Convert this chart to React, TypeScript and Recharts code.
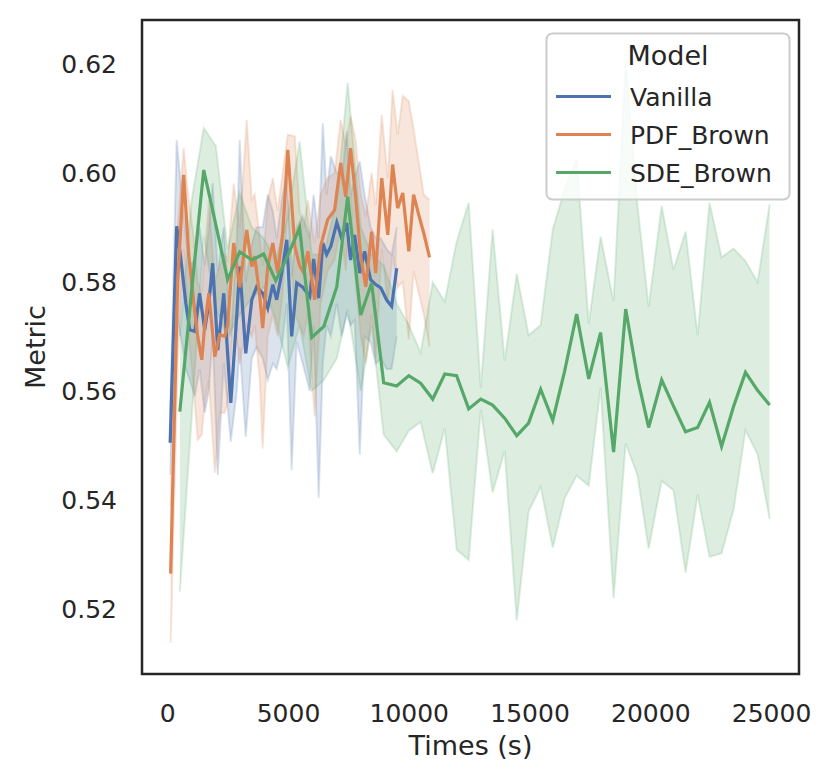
import React from 'react';
import { ComposedChart, Line, Area, XAxis, YAxis, ReferenceArea } from 'recharts';

// ---- Vanilla ----
const vanillaTimes = [100, 370, 580, 750, 910, 1120, 1320, 1530, 1700, 1860, 2070, 2320, 2610, 2860, 2980, 3230, 3480, 3680, 3930, 4140, 4350, 4510, 4720, 4930, 5130, 5340, 5590, 5880, 6040, 6250, 6420, 6580, 6750, 7000, 7200, 7410, 7570, 7740, 7950, 8150, 8400, 8610, 8820, 9060, 9270, 9480];
const vanillaMean = [0.5505, 0.5902, 0.5828, 0.576, 0.5712, 0.5709, 0.5779, 0.5712, 0.576, 0.5834, 0.5675, 0.5779, 0.5578, 0.574, 0.5828, 0.5669, 0.5767, 0.5791, 0.5779, 0.5752, 0.5795, 0.5767, 0.5816, 0.5877, 0.57, 0.5798, 0.579, 0.5773, 0.5842, 0.577, 0.5871, 0.585, 0.5865, 0.5909, 0.588, 0.5908, 0.584, 0.5886, 0.5816, 0.5856, 0.5804, 0.5795, 0.5789, 0.5767, 0.5755, 0.5825];
const vanillaHigh = [0.556, 0.606, 0.596, 0.588, 0.583, 0.584, 0.59, 0.583, 0.59, 0.5981, 0.582, 0.59, 0.57, 0.588, 0.606, 0.58, 0.587, 0.59, 0.59, 0.596, 0.593, 0.588, 0.595, 0.6, 0.581, 0.59, 0.592, 0.588, 0.596, 0.588, 0.6091, 0.596, 0.603, 0.6, 0.599, 0.6076, 0.596, 0.599, 0.6021, 0.596, 0.59, 0.588, 0.588, 0.586, 0.585, 0.59];
const vanillaLow = [0.5446, 0.574, 0.569, 0.564, 0.562, 0.559, 0.564, 0.556, 0.56, 0.57, 0.5446, 0.565, 0.5507, 0.56, 0.568, 0.5516, 0.566, 0.568, 0.566, 0.562, 0.565, 0.564, 0.568, 0.576, 0.5455, 0.569, 0.565, 0.56, 0.572, 0.5404, 0.565, 0.572, 0.57, 0.576, 0.57, 0.574, 0.572, 0.573, 0.5483, 0.57, 0.569, 0.565, 0.566, 0.564, 0.564, 0.57];

// ---- PDF_Brown ----
const pdfTimes = [120, 410, 660, 870, 1080, 1240, 1410, 1530, 1700, 1950, 2150, 2360, 2480, 2730, 2980, 3270, 3480, 3600, 3810, 3930, 4140, 4350, 4550, 4760, 4970, 5260, 5460, 5630, 5800, 6080, 6330, 6620, 6910, 7160, 7370, 7570, 7780, 7990, 8200, 8440, 8610, 8860, 9110, 9310, 9520, 9730, 9980, 10180, 10390, 10600, 10840];
const pdfMean = [0.5265, 0.58, 0.5996, 0.585, 0.5761, 0.57, 0.5657, 0.572, 0.5779, 0.5663, 0.5703, 0.57, 0.572, 0.5871, 0.579, 0.5895, 0.5828, 0.5847, 0.5773, 0.5715, 0.5828, 0.5871, 0.5816, 0.5889, 0.6042, 0.5865, 0.583, 0.5816, 0.5856, 0.5767, 0.5865, 0.5914, 0.5932, 0.6018, 0.5956, 0.6045, 0.5956, 0.5846, 0.5791, 0.5892, 0.5816, 0.599, 0.5886, 0.6015, 0.5935, 0.5963, 0.5856, 0.596, 0.5923, 0.5889, 0.5845];
const pdfHigh = [0.539, 0.59, 0.6045, 0.595, 0.588, 0.58, 0.578, 0.585, 0.595, 0.58, 0.583, 0.585, 0.584, 0.598, 0.59, 0.6097, 0.595, 0.596, 0.588, 0.583, 0.595, 0.599, 0.593, 0.6, 0.607, 0.6067, 0.593, 0.59, 0.595, 0.587, 0.596, 0.599, 0.6, 0.6097, 0.605, 0.6103, 0.606, 0.596, 0.592, 0.6, 0.594, 0.6106, 0.599, 0.6152, 0.607, 0.6141, 0.6131, 0.608, 0.602, 0.596, 0.595];
const pdfLow = [0.5138, 0.565, 0.586, 0.57, 0.56, 0.551, 0.552, 0.558, 0.562, 0.545, 0.556, 0.556, 0.558, 0.574, 0.565, 0.572, 0.57, 0.572, 0.562, 0.5494, 0.57, 0.574, 0.57, 0.578, 0.595, 0.574, 0.572, 0.57, 0.574, 0.5553, 0.576, 0.582, 0.584, 0.59, 0.582, 0.596, 0.58, 0.57, 0.565, 0.574, 0.566, 0.586, 0.576, 0.585, 0.579, 0.58, 0.5694, 0.582, 0.578, 0.574, 0.5681];

// ---- SDE_Brown ----
const sdeTimes = [500, 990, 1490, 1990, 2480, 2980, 3480, 3970, 4470, 4970, 5460, 5960, 6460, 7000, 7450, 7990, 8440, 8940, 9480, 9980, 10470, 10970, 11470, 11960, 12460, 12960, 13450, 13950, 14450, 14940, 15440, 15940, 16430, 16930, 17430, 17920, 18460, 18960, 19450, 19910, 20450, 20940, 21440, 21940, 22430, 22930, 23430, 23920, 24420, 24920];
const sdeMean = [0.5562, 0.5784, 0.6005, 0.5905, 0.5804, 0.5855, 0.584, 0.5851, 0.5802, 0.5848, 0.5899, 0.5698, 0.5718, 0.5791, 0.5956, 0.5739, 0.5798, 0.5615, 0.5609, 0.5628, 0.5614, 0.5585, 0.5631, 0.5628, 0.5567, 0.5585, 0.5574, 0.555, 0.5518, 0.5541, 0.5603, 0.5546, 0.5636, 0.5741, 0.5622, 0.5707, 0.5488, 0.575, 0.5624, 0.5533, 0.562, 0.5572, 0.5525, 0.5533, 0.5579, 0.5498, 0.5572, 0.5634, 0.5601, 0.5574];
const sdeHigh = [0.57, 0.595, 0.6082, 0.6049, 0.5859, 0.5963, 0.59, 0.588, 0.584, 0.592, 0.6057, 0.585, 0.585, 0.595, 0.6165, 0.59, 0.585, 0.583, 0.576, 0.5721, 0.567, 0.5799, 0.5764, 0.5873, 0.5945, 0.5605, 0.5896, 0.5655, 0.5815, 0.5702, 0.5721, 0.5896, 0.5969, 0.6025, 0.5723, 0.5883, 0.5764, 0.6203, 0.5939, 0.5754, 0.5939, 0.5822, 0.5892, 0.5702, 0.5945, 0.5845, 0.5861, 0.5838, 0.5799, 0.5942];
const sdeLow = [0.5232, 0.555, 0.5883, 0.575, 0.57, 0.574, 0.577, 0.579, 0.573, 0.5644, 0.572, 0.56, 0.562, 0.566, 0.575, 0.56, 0.572, 0.552, 0.5489, 0.5527, 0.5543, 0.5449, 0.5531, 0.5309, 0.529, 0.5566, 0.5414, 0.549, 0.5179, 0.5379, 0.5424, 0.5313, 0.5403, 0.5445, 0.5426, 0.5606, 0.522, 0.5504, 0.5445, 0.5311, 0.5435, 0.5418, 0.5267, 0.541, 0.5296, 0.5302, 0.5383, 0.5528, 0.5484, 0.5365];

const xTicks = [0, 5000, 10000, 15000, 20000, 25000];
const yTicks = [0.52, 0.54, 0.56, 0.58, 0.6, 0.62];
const legendNames = ['Vanilla', 'PDF_Brown', 'SDE_Brown'];
const colors = ['#4C72B0', '#DD8452', '#55A868'];

function build(times: number[], mean: number[], low: number[], high: number[]) {
  return times.map((t, i) => ({ t, mean: mean[i], band: [low[i], high[i]] }));
}

const series = [
  build(vanillaTimes, vanillaMean, vanillaLow, vanillaHigh),
  build(pdfTimes, pdfMean, pdfLow, pdfHigh),
  build(sdeTimes, sdeMean, sdeLow, sdeHigh),
];

const FONT = 'DejaVu Sans, sans-serif';
const TXT = '#262626';
const X_DOMAIN: [number, number] = [-1066, 26136];
const Y_DOMAIN: [number, number] = [0.5081, 0.628];

export default function App() {
  return (
    <div style={{ position: 'absolute', left: 0, top: 0, width: 831, height: 784, background: '#fff' }}>
      <ComposedChart width={831} height={784} margin={{ top: 20, right: 32, bottom: 0, left: 0 }}>
        <XAxis
          dataKey="t"
          type="number"
          domain={X_DOMAIN}
          ticks={xTicks}
          allowDataOverflow
          height={110}
          tickLine={false}
          axisLine={false}
          tickSize={0}
          tickMargin={30}
          tick={{ fontSize: 25, fontFamily: FONT, fill: TXT }}
          label={() => (
            <text x={470.5} y={755} textAnchor="middle" fontSize={27} fontFamily={FONT} fill={TXT}>
              Times (s)
            </text>
          )}
        />
        <YAxis
          type="number"
          domain={Y_DOMAIN}
          ticks={yTicks}
          allowDataOverflow
          width={142}
          tickLine={false}
          axisLine={false}
          tickSize={0}
          tickMargin={25}
          tickFormatter={(v: number) => v.toFixed(2)}
          tick={{ fontSize: 25, fontFamily: FONT, fill: TXT }}
          label={() => (
            <text x={45} y={347} transform="rotate(-90 45 347)" textAnchor="middle" fontSize={27} fontFamily={FONT} fill={TXT}>
              Metric
            </text>
          )}
        />
        {series.map((d, i) => (
          <Area
            key={'a' + i}
            data={d}
            dataKey="band"
            type="linear"
            fill={colors[i]}
            fillOpacity={0.2}
            stroke={colors[i]}
            strokeOpacity={0.2}
            strokeWidth={2}
            isAnimationActive={false}
            dot={false}
            activeDot={false}
          />
        ))}
        {series.map((d, i) => (
          <Line
            key={'l' + i}
            data={d}
            dataKey="mean"
            type="linear"
            stroke={colors[i]}
            strokeWidth={3.2}
            dot={false}
            activeDot={false}
            isAnimationActive={false}
          />
        ))}
        <ReferenceArea
          x1={X_DOMAIN[0]}
          x2={X_DOMAIN[1]}
          y1={Y_DOMAIN[0]}
          y2={Y_DOMAIN[1]}
          fill="none"
          stroke={TXT}
          strokeWidth={2.5}
          ifOverflow="visible"
        />
      </ComposedChart>
      <svg width={831} height={784} style={{ position: 'absolute', left: 0, top: 0, pointerEvents: 'none' }}>
        <rect x={546.5} y={33.5} width={243} height={166} rx={6} ry={6} fill="#ffffff" fillOpacity={0.8} stroke="#cccccc" strokeWidth={2} />
        <text x={668} y={65} textAnchor="middle" fontSize={27} fontFamily={FONT} fill={TXT}>
          Model
        </text>
        {legendNames.map((name, i) => (
          <g key={name}>
            <line x1={556} x2={611} y1={96.5 + i * 38} y2={96.5 + i * 38} stroke={colors[i]} strokeWidth={3.2} />
            <text x={630} y={96.5 + i * 38 + 9} fontSize={25} fontFamily={FONT} fill={TXT}>
              {name}
            </text>
          </g>
        ))}
      </svg>
    </div>
  );
}
